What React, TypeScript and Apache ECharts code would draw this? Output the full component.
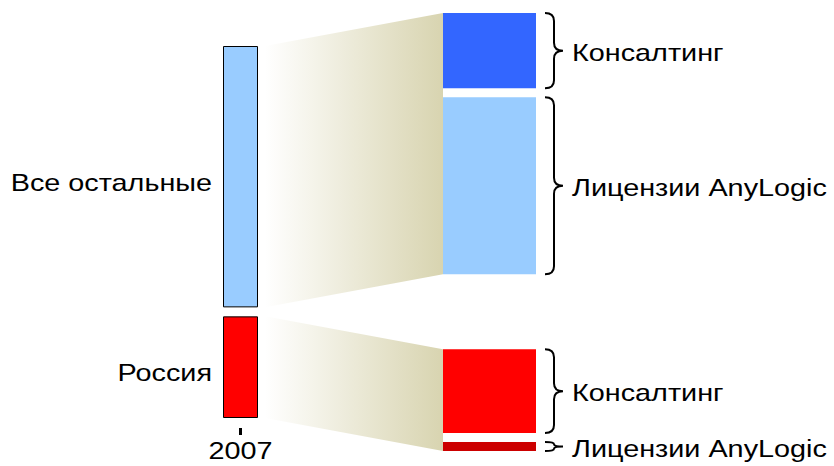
import React, { useEffect, useRef } from 'react';
import * as echarts from 'echarts';

// ---- data (shares in % of 2007 revenue) ----
const years = ['2007'];
const regions = ['Россия', 'Все остальные']; // bottom to top
const regionShare = [28, 72];
const consulting = [24.3, 22];
const licenses = [3.7, 50];
const segmentNames = ['Консалтинг', 'Лицензии AnyLogic'];

// ---- layout / style constants ----
const W = 834;
const H = 466;
const GAP = 9;
const SHIFT = [33, -33];
const LEFT_X0 = 223;
const LEFT_X1 = 258;
const TRAP_X0 = 265;
const RIGHT_X0 = 443;
const RIGHT_X1 = 536;
const BRACE_TIP = 545;
const BRACE_STEM = 554;
const BRACE_POINT = 563;
const LABEL_X = 572;
const FONT_FAMILY = '"Liberation Sans", Arial, sans-serif';
const FONT_SIZE = 24;
const STRETCH = 1.2;
const regionColors = ['#FF0000', '#99CCFF'];
const consultingColors = ['#FF0000', '#3366FF'];
const licenseColors = ['#CC0000', '#99CCFF'];
const trapColor = '#D8D4B0';

function geom(api: any, i: number) {
  let before = 0;
  for (let j = 0; j < i; j++) before += regionShare[j];
  const segBot = api.coord([0, before])[1] - i * GAP;
  const segTop = api.coord([0, before + regionShare[i]])[1] - i * GAP;
  const gb = segBot + SHIFT[i];
  const gt = segTop + SHIFT[i];
  const licTop = gb - (api.size([0, licenses[i]])[1] - GAP / 2);
  const conBot = gt + (api.size([0, consulting[i]])[1] - GAP / 2);
  return { segBot, segTop, gb, gt, licTop, conBot };
}

function bracePath(y0: number, y1: number) {
  const span = y1 - y0;
  const r = Math.min(8, span / 4);
  const ym = (y0 + y1) / 2;
  const xs = BRACE_STEM;
  const xt = BRACE_TIP;
  const xp = BRACE_POINT;
  return `M${xt},${y0} Q${xs},${y0} ${xs},${y0 + r} L${xs},${ym - r} Q${xs},${ym} ${xp},${ym} Q${xs},${ym} ${xs},${ym + r} L${xs},${y1 - r} Q${xs},${y1} ${xt},${y1}`;
}

function textEl(text: string, x: number, y: number, align: string) {
  return {
    type: 'text',
    x,
    y,
    scaleX: STRETCH,
    style: {
      text,
      fill: '#000000',
      fontSize: FONT_SIZE,
      fontFamily: FONT_FAMILY,
      align,
      verticalAlign: 'middle',
    },
  };
}

function rightPart(api: any, i: number, y0: number, y1: number, color: string, name: string) {
  return {
    type: 'group',
    children: [
      {
        type: 'rect',
        shape: { x: RIGHT_X0, y: y0, width: RIGHT_X1 - RIGHT_X0, height: y1 - y0 },
        style: { fill: color },
      },
      {
        type: 'path',
        shape: { pathData: bracePath(y0, y1) },
        style: { stroke: '#000000', lineWidth: 2, fill: 'none' },
      },
      textEl(name, LABEL_X, (y0 + y1) / 2 + 2, 'left'),
    ],
  };
}

export default function App() {
  const ref = useRef<HTMLDivElement>(null);

  useEffect(() => {
    document.body.style.margin = '0';
    if (!ref.current) return;
    const chart = echarts.init(ref.current, null, { renderer: 'svg' });

    const option: any = {
      animation: false,
      backgroundColor: '#FFFFFF',
      grid: { left: 0, right: 0, top: 55, bottom: 48 },
      xAxis: { type: 'value', min: 0, max: W, show: false },
      yAxis: { type: 'value', min: 0, max: 100, show: false },
      series: [
        {
          type: 'custom',
          name: 'trapezoids',
          silent: true,
          data: regionShare.map((v, i) => [i, v]),
          renderItem: (params: any, api: any) => {
            const i = api.value(0);
            const g = geom(api, i);
            return {
              type: 'polygon',
              shape: {
                points: [
                  [TRAP_X0, g.segTop],
                  [RIGHT_X0, g.gt],
                  [RIGHT_X0, g.gb],
                  [TRAP_X0, g.segBot],
                ],
              },
              style: {
                fill: new echarts.graphic.LinearGradient(0, 0, 1, 0, [
                  { offset: 0, color: '#FFFFFF' },
                  { offset: 1, color: trapColor },
                ]),
              },
            };
          },
        },
        {
          type: 'custom',
          name: 'regions',
          silent: true,
          data: regionShare.map((v, i) => [i, v]),
          renderItem: (params: any, api: any) => {
            const i = api.value(0);
            const g = geom(api, i);
            return {
              type: 'group',
              children: [
                {
                  type: 'rect',
                  shape: {
                    x: LEFT_X0 + 0.5,
                    y: g.segTop + 0.5,
                    width: LEFT_X1 - LEFT_X0 - 1,
                    height: g.segBot - g.segTop - 1,
                  },
                  style: { fill: regionColors[i], stroke: '#000000', lineWidth: 1 },
                },
                textEl(regions[i], 212, (g.segTop + g.segBot) / 2 + 6, 'right'),
              ],
            };
          },
        },
        {
          type: 'custom',
          name: segmentNames[0],
          silent: true,
          data: consulting.map((v, i) => [i, v]),
          renderItem: (params: any, api: any) => {
            const i = api.value(0);
            const g = geom(api, i);
            return rightPart(api, i, g.gt, g.conBot, consultingColors[i], segmentNames[0]);
          },
        },
        {
          type: 'custom',
          name: segmentNames[1],
          silent: true,
          data: licenses.map((v, i) => [i, v]),
          renderItem: (params: any, api: any) => {
            const i = api.value(0);
            const g = geom(api, i);
            return rightPart(api, i, g.licTop, g.gb, licenseColors[i], segmentNames[1]);
          },
        },
        {
          type: 'custom',
          name: 'year',
          silent: true,
          data: years.map((y, i) => [i, 0]),
          renderItem: (params: any, api: any) => {
            const i = api.value(0);
            const base = api.coord([0, 0])[1];
            const cx = (LEFT_X0 + LEFT_X1) / 2;
            return {
              type: 'group',
              children: [
                {
                  type: 'rect',
                  shape: { x: cx - 1.5, y: base + 10, width: 3, height: 7 },
                  style: { fill: '#000000' },
                },
                {
                  type: 'text',
                  x: cx,
                  y: base + 33,
                  scaleX: STRETCH,
                  style: {
                    text: years[i],
                    fill: '#000000',
                    fontSize: FONT_SIZE,
                    fontFamily: FONT_FAMILY,
                    align: 'center',
                    verticalAlign: 'middle',
                  },
                },
              ],
            };
          },
        },
      ],
    };

    chart.setOption(option);
    return () => {
      chart.dispose();
    };
  }, []);

  return <div ref={ref} style={{ width: W, height: H }} />;
}
